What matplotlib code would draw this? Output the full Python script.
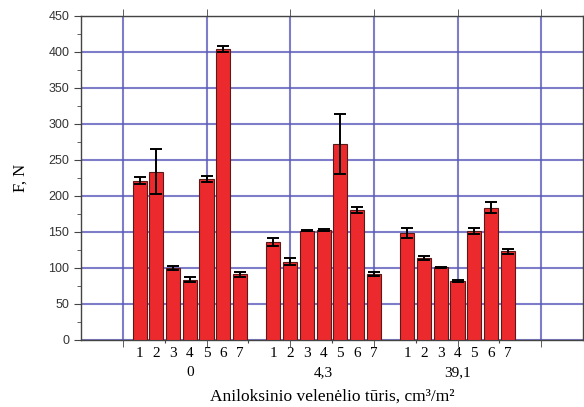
import numpy as np
import matplotlib
matplotlib.use("Agg")
import matplotlib.pyplot as plt
from matplotlib.ticker import MultipleLocator, FixedLocator

# data
groups = ["0", "4,3", "39,1"]
bar_labels = ["1", "2", "3", "4", "5", "6", "7"]
force = [
    [221, 234, 100, 84, 224, 404, 91],
    [136, 109, 152, 153, 272, 181, 92],
    [149, 114, 101, 82, 151, 184, 123],
]
force_err = [
    [5, 31, 3, 3, 4, 4, 3],
    [5, 5, 1, 1, 42, 4, 3],
    [7, 3, 1, 2, 4, 7, 3],
]

fig = plt.figure(figsize=(5.84, 4.07), dpi=100)
ax = fig.add_axes([81 / 584, 1 - 340 / 407, 502 / 584, 324 / 407])

grid_col = "#5c5cbc"
serif = ["Liberation Serif", "DejaVu Serif"]
sans = ["Liberation Sans", "DejaVu Sans"]

positions, centers = [], []
for g, vals in enumerate(force):
    x = g * 8 + np.arange(len(vals))
    positions.extend(x)
    centers.append(x.mean())
    ax.bar(x, vals, width=0.84, color="#ec2a2e", edgecolor="#5a1a1a", lw=0.8, zorder=3)
    ax.errorbar(x, vals, yerr=force_err[g], fmt="none", ecolor="black",
                elinewidth=1.4, capsize=4.5, capthick=1.4, zorder=4)

ax.set_xlim(-3.5, 26.5)
ax.set_ylim(0, 450)

# y axis
ax.yaxis.set_major_locator(MultipleLocator(50))
ax.yaxis.set_minor_locator(MultipleLocator(25))
ax.tick_params(axis="y", which="both", direction="out", right=True, color="#444444")
ax.tick_params(axis="y", which="major", length=5, labelsize=9, labelcolor="#333333")
ax.tick_params(axis="y", which="minor", length=3)
for lab in ax.get_yticklabels():
    lab.set_family(sans)

# x axis: bar numbers as labels, grid on minor ticks
ax.set_xticks(positions)
ax.set_xticklabels(bar_labels * len(groups), family=serif, fontsize=11)
ax.tick_params(axis="x", which="major", length=0, pad=5)
ax.xaxis.remove_overlapping_locs = False
ax.xaxis.set_minor_locator(FixedLocator([-1, 4, 9, 14, 19, 24]))
ax.tick_params(axis="x", which="minor", direction="out", length=5, top=True,
               color="#444444")

ax.grid(True, axis="y", which="major", color=grid_col, lw=1.5, alpha=0.8, zorder=0)
ax.grid(True, axis="x", which="minor", color=grid_col, lw=1.5, alpha=0.8, zorder=0)
ax.set_axisbelow(True)

sec = ax.secondary_xaxis("bottom")
sec.set_xticks([1.5, 6.5, 11.5, 16.5, 21.5])
sec.set_xticklabels([])
sec.tick_params(direction="out", length=2.5, color="#444444")
sec.spines["bottom"].set_visible(False)

for g, cx in enumerate(centers):
    ax.text(cx, -0.1, groups[g], transform=ax.get_xaxis_transform(),
            ha="center", va="center", family=serif, fontsize=11)

for s in ax.spines.values():
    s.set_color("#444444")
    s.set_linewidth(1.0)

ax.set_ylabel("F, N", family=serif, fontsize=12, labelpad=14)
ax.set_xlabel("Aniloksinio velenėlio tūris, cm³/m²", family=serif,
              fontsize=12.5, labelpad=21)

fig.savefig("out.png", dpi=100)
